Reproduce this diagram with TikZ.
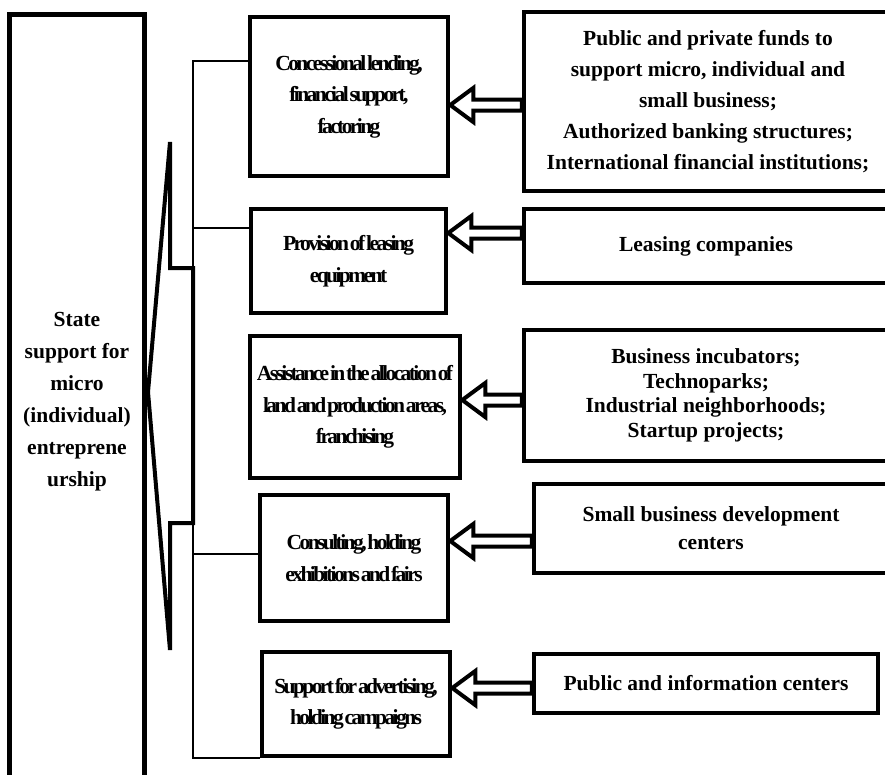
\documentclass[tikz,border=0pt]{standalone}
\usepackage{fontspec}
\setmainfont{Liberation Serif}
\newfontfamily\narrowfont{Liberation Serif}[LetterSpace=-12,WordSpace=0.3]
\usetikzlibrary{calc}
\def\hollowarrow(#1)(#2)(#3){\coordinate (tip) at ([yshift=#3]#1.east);
	\draw[arrowline] (tip) -- ++(23,-17) -- ++(0,11.5) -- ($(tip -| #2.west)+(0,-5.5)$) -- ($(tip -| #2.west)+(0,5.5)$) -- ($(tip)+(23,5.5)$) -- ++(0,11.5) -- cycle;}

\begin{document}
\begin{tikzpicture}[x=1pt, y=-1pt,
	box/.style={draw, line width=4.5pt, align=center, inner sep=0pt},
	aimbox/.style={box, font=\narrowfont\bfseries\fontsize{21.5}{31.5}\selectfont},
	srcbox/.style={box, font=\bfseries\fontsize{21.5}{31}\selectfont},
	arrowline/.style={line width=4pt, fill=white, line join=miter},
	brace/.style={line width=4pt, line join=miter},
	bus/.style={line width=1.3pt}]
			%%%%% START %%%%%
			
			\useasboundingbox (0, 0) rectangle (885, 774);
			\clip (0, 0) rectangle (885, 774);
			
			\node[srcbox, minimum width=135, minimum height=775, font=\bfseries\fontsize{21.5}{32}\selectfont] (state) at (77, 402) {State\\support for\\micro\\(individual)\\entreprene\\urship};
			
			\node[aimbox, minimum width=198, minimum height=159] (m1) at (349, 96.5) {Concessional lending,\\financial support,\\factoring};
			\node[aimbox, minimum width=195, minimum height=104] (m2) at (348.5, 261) {Provision of leasing\\equipment};
			\node[aimbox, minimum width=210, minimum height=142] (m3) at (355, 407) {Assistance in the allocation of\\land and production areas,\\franchising};
			\node[aimbox, minimum width=188, minimum height=126] (m4) at (354, 558) {Consulting, holding\\exhibitions and fairs};
			\node[aimbox, minimum width=188, minimum height=104] (m5) at (356, 704) {Support for advertising,\\holding campaigns};
			
			\node[srcbox, minimum width=368, minimum height=179] (r1) at (708, 101.5) {Public and private funds to\\support micro, individual and\\small business;\\Authorized banking structures;\\International financial institutions;};
			\node[srcbox, minimum width=364, minimum height=74] (r2) at (706, 246) {Leasing companies};
			\node[srcbox, minimum width=364, minimum height=131, font=\bfseries\fontsize{21.5}{24.5}\selectfont] (r3) at (706, 395.5) {Business incubators;\\Technoparks;\\Industrial neighborhoods;\\Startup projects;};
			\node[srcbox, minimum width=354, minimum height=89, font=\bfseries\fontsize{21.5}{28}\selectfont] (r4) at (711, 528.5) {Small business development\\centers};
			\node[srcbox, minimum width=344, minimum height=59] (r5) at (706, 683.5) {Public and information centers};
			
			\draw[brace] (170, 650) -- (148, 392) -- (170, 142) -- (170, 268) -- (193, 268) -- (193, 523) -- (170, 523) -- cycle;
			
			\coordinate (bustop) at (193, 61);
			\coordinate (busbot) at (193, 758);
			\coordinate (j2) at (193, 228);
			\coordinate (j4) at (193, 554);
			\draw[bus] (m1.west |- bustop) -- (bustop) -- (busbot) -- (m5.west |- busbot);
			\draw[bus] (j2) -- (j2 -| m2.west);
			\draw[bus] (j4) -- (j4 -| m4.west);
			
			\hollowarrow(m1)(r1)(-8.5pt)
			\hollowarrow(m2)(r2)(28pt)
			\hollowarrow(m3)(r3)(7pt)
			\hollowarrow(m4)(r4)(17pt)
			\hollowarrow(m5)(r5)(16pt)
			
			%%%%% END %%%%%
\end{tikzpicture}
\end{document}
